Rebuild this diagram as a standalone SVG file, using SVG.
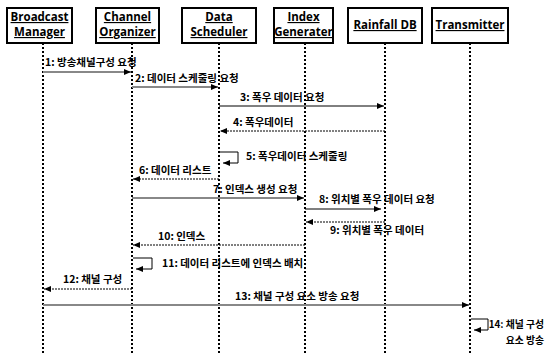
<svg xmlns="http://www.w3.org/2000/svg" width="546" height="355" viewBox="0 0 546 355">
<defs>
<style>
.box{fill:#fff;stroke:#000;stroke-width:2}
.ttl{font-family:"Open Sans","Liberation Sans","Noto Sans CJK KR",sans-serif;font-weight:bold;font-size:11.5px;text-anchor:middle;text-decoration:underline}
.life{stroke:#000;stroke-width:2;stroke-dasharray:2,2}
.msg{stroke:#000;stroke-width:1;fill:none}
.gmsg{stroke:#888;stroke-width:2;fill:none}
.ret{stroke:#000;stroke-width:1;stroke-dasharray:2,1;fill:none}
.lbl{font-family:"Noto Sans CJK KR",sans-serif;font-weight:bold;font-size:10.5px;fill:#000}
</style>
<marker id="ah" markerWidth="8" markerHeight="8" refX="7" refY="4" orient="auto" markerUnits="userSpaceOnUse">
<path d="M0,1 L7,4 L0,7 Z" fill="#000"/>
</marker>
</defs>
<g id="lifelines">
<line class="life" x1="43" y1="43" x2="43" y2="355"/>
<line class="life" x1="132" y1="43" x2="132" y2="355"/>
<line class="life" x1="219" y1="43" x2="219" y2="355"/>
<line class="life" x1="305" y1="43" x2="305" y2="355"/>
<line class="life" x1="385" y1="43" x2="385" y2="355"/>
<line class="life" x1="470" y1="43" x2="470" y2="355"/>
</g>
<g id="broadcast-manager"><rect class="box" x="7" y="8" width="65" height="35"/><text class="ttl" x="39.5" y="21">Broadcast</text><text class="ttl" x="39.5" y="36">Manager</text></g>
<g id="channel-organizer"><rect class="box" x="96" y="8" width="63" height="35"/><text class="ttl" x="127.5" y="21">Channel</text><text class="ttl" x="127.5" y="36">Organizer</text></g>
<g id="data-scheduler"><rect class="box" x="182" y="8" width="74" height="35"/><text class="ttl" x="219" y="21">Data</text><text class="ttl" x="219" y="36">Scheduler</text></g>
<g id="index-generater"><rect class="box" x="274" y="8" width="59" height="35"/><text class="ttl" x="303.5" y="21">Index</text><text class="ttl" x="303.5" y="36">Generater</text></g>
<g id="rainfall-db"><rect class="box" x="348" y="8" width="74" height="35"/><text class="ttl" x="385" y="29">Rainfall DB</text></g>
<g id="transmitter"><rect class="box" x="432" y="8" width="76" height="35"/><text class="ttl" x="470" y="29">Transmitter</text></g>
<g id="connectors">
<line class="gmsg" x1="43" y1="72" x2="131" y2="72" marker-end="url(#ah)"/>
<line class="gmsg" x1="132" y1="87" x2="218" y2="87" marker-end="url(#ah)"/>
<line class="msg" x1="219" y1="106" x2="384" y2="106" marker-end="url(#ah)"/>
<line class="ret" x1="385" y1="131" x2="220" y2="131" marker-end="url(#ah)"/>
<polyline class="msg" points="220,152 238,152 238,163 223,163" marker-end="url(#ah)"/>
<line class="ret" x1="219" y1="179" x2="133" y2="179" marker-end="url(#ah)"/>
<line class="gmsg" x1="132" y1="198" x2="304" y2="198" marker-end="url(#ah)"/>
<line class="msg" x1="305" y1="209" x2="381" y2="209" marker-end="url(#ah)"/>
<line class="ret" x1="385" y1="222" x2="306" y2="222" marker-end="url(#ah)"/>
<line class="ret" x1="305" y1="245" x2="133" y2="245" marker-end="url(#ah)"/>
<polyline class="msg" points="133,258 152,258 152,269 136,269" marker-end="url(#ah)"/>
<line class="ret" x1="132" y1="289" x2="44" y2="289" marker-end="url(#ah)"/>
<line class="gmsg" x1="43" y1="305" x2="469" y2="305" marker-end="url(#ah)"/>
<polyline class="msg" points="471,319 488,319 488,330 474,330" marker-end="url(#ah)"/>
</g>
<g id="labels">
<text class="lbl" x="45" y="66">1: 방송채널구성 요청</text>
<text class="lbl" x="135" y="82">2: 데이터 스케줄링 요청</text>
<text class="lbl" x="240" y="101">3: 폭우 데이터 요청</text>
<text class="lbl" x="233" y="126">4: 폭우데이터</text>
<text class="lbl" x="246" y="160">5: 폭우데이터 스케줄링</text>
<text class="lbl" x="139" y="174">6: 데이터 리스트</text>
<text class="lbl" x="213" y="193">7: 인덱스 생성 요청</text>
<text class="lbl" x="319" y="203">8: 위치별 폭우 데이터 요청</text>
<text class="lbl" x="330" y="234">9: 위치별 폭우 데이터</text>
<text class="lbl" x="158" y="240">10: 인덱스</text>
<text class="lbl" x="162" y="267">11: 데이터 리스트에 인덱스 배치</text>
<text class="lbl" x="63" y="283">12: 채널 구성</text>
<text class="lbl" x="235" y="300">13: 채널 구성 요소 방송 요청</text>
<text class="lbl" x="544" y="328" text-anchor="end" style="font-size:9.8px">14: 채널 구성</text>
<text class="lbl" x="544" y="344" text-anchor="end" style="font-size:9.8px">요소 방송</text>
</g>
</svg>
